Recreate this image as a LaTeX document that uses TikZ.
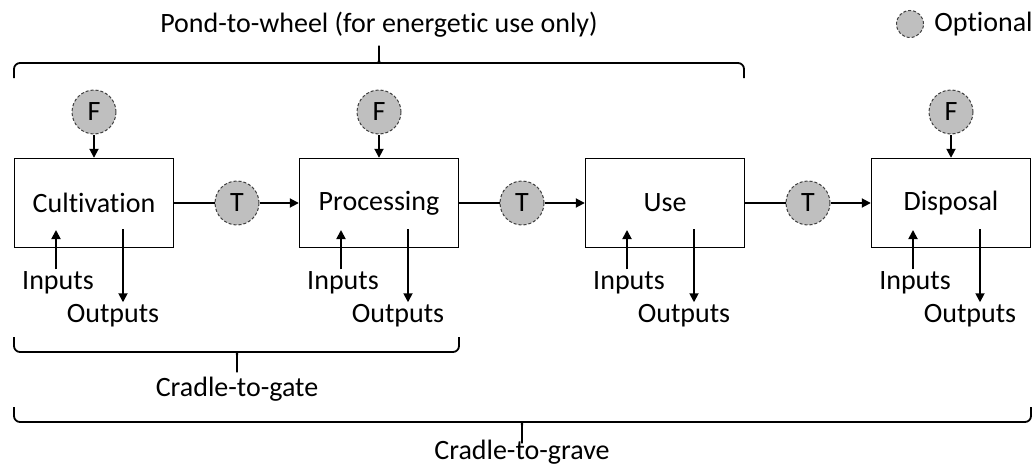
\documentclass[tikz,border=0pt]{standalone}
\usepackage{fontspec}
\setmainfont{Carlito}[Ligatures=NoCommon]
\usetikzlibrary{arrows.meta}
\definecolor{optgray}{RGB}{191,191,191}

\begin{document}
\begin{tikzpicture}[x=0.5pt, y=-0.5pt,
		every node/.style={font=\fontsize{14}{17}\selectfont},
		stage/.style={draw, line width=0.7pt, minimum width=79.5pt, minimum height=44.5pt, inner sep=0pt},
		opt/.style={circle, draw=black!75, fill=optgray, dash pattern=on 1.5pt off 1pt, line width=0.5pt, minimum size=22pt, inner sep=0pt},
		lab/.style={inner sep=1pt},
		arr/.style={line width=0.9pt, -{Triangle[length=4.5pt, width=4.5pt]}},
		link/.style={line width=0.9pt},
		brace/.style={line width=0.9pt, rounded corners=3pt}]
		\useasboundingbox (0,0) rectangle (1034,466);
		
		% life cycle stages with inputs and outputs
		\foreach \n/\cx/\txt in {cult/94/Cultivation, proc/379/Processing, use/665/Use, disp/951/Disposal} {
			\node[stage] (\n) at (\cx,203) {\txt};
			\node[lab] (in-\n) at (\cx-36,283) {Inputs};
			\node[lab] (out-\n) at (\cx+19,316) {Outputs};
			\coordinate (it-\n) at (\cx-38,230);
			\coordinate (ot-\n) at (\cx+29,229);
			\draw[arr] (in-\n.north -| it-\n) -- (it-\n);
			\draw[arr] (ot-\n) -- (ot-\n |- out-\n.north);
		}
		
		% fuel (optional)
		\foreach \n in {cult, proc, disp} {
			\node[opt] (f-\n) at (\n |- 0,112) {F};
			\draw[arr] (f-\n) -- (\n);
		}
		
		% transport (optional)
		\foreach \a/\b/\i/\tx in {cult/proc/1/237, proc/use/2/522, use/disp/3/808} {
			\node[opt] (t\i) at (\tx,203) {T};
			\draw[link] (\a) -- (t\i);
			\draw[arr] (t\i) -- (\b);
		}
		
		% legend
		\node[opt, minimum size=13.5pt] (leg) at (910,24) {};
		\node[lab, anchor=west] (leg-txt) at (932,24) {Optional};
		
		% system boundaries
		\draw[brace] (14,78) -- (14,63) -- (374,63) .. controls (379,63) .. (379,42) .. controls (379,63) .. (384,63) -- (744,63) -- (744,78);
		\node (ptw) at (379,25) {Pond-to-wheel (for energetic use only)};
		
		\draw[brace] (14,337) -- (14,352) -- (232,352) .. controls (237,352) .. (237,376) .. controls (237,352) .. (242,352) -- (459,352) -- (459,337);
		\node (ctg) at (237,389) {Cradle-to-gate};
		
		\draw[brace] (14,407) -- (14,422) -- (517,422) .. controls (522,422) .. (522,447) .. controls (522,422) .. (527,422) -- (1031,422) -- (1031,407);
		\node (ctgr) at (522,452) {Cradle-to-grave};
		
\end{tikzpicture}
\end{document}
